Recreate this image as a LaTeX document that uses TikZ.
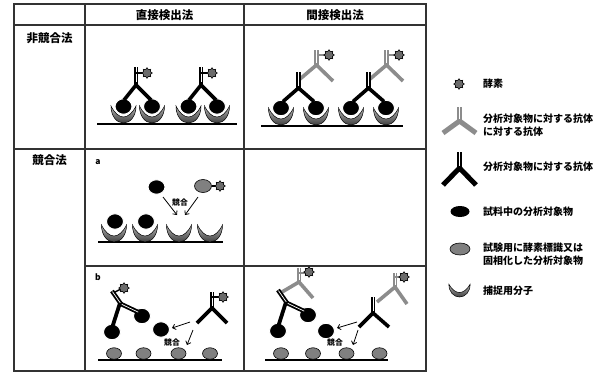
\documentclass[tikz,border=0pt]{standalone}
\usepackage{fontspec}
\newfontfamily\jp{Noto Sans CJK JP}
\usetikzlibrary{calc,shapes.geometric,arrows.meta}

\colorlet{abgray}{black!45}

% Y-shaped antibody: #1 arm width, #2 colour, #3 stem top, #4 stem foot, #5 left tip, #6 right tip
\newcommand\abody[6][3.6]{%
  \draw[draw=#2, line width=#1pt, line join=round] (#5) -- (#4) -- (#6);
  \draw[draw=#2, line width={#1pt+0.6pt}] (#3) -- (#4);
  \draw[white, line width={0.16*#1pt}] (#3) -- ($(#3)!0.85!(#4)$);
}
% double-chain bar (stem drawn as two strands)
\newcommand\dbar[3]{%
  \draw[draw=#1, line width=4.4pt] (#2) -- (#3);
  \draw[white, line width=0.7pt, shorten <=0.8pt, shorten >=0.8pt] (#2) -- (#3);
}

\tikzset{
  grid/.style={draw=black!80, line width=1.1pt},
  base/.style={line width=2.2pt, line cap=butt},
  head/.style={font=\jp\bfseries\fontsize{11.5}{13}\selectfont, inner sep=0pt},
  legtext/.style={font=\jp\bfseries\fontsize{10}{12.5}\selectfont, anchor=west, align=left, inner sep=0pt},
  sublabel/.style={font=\jp\bfseries\fontsize{8.5}{10}\selectfont, inner sep=0pt},
  small/.style={font=\jp\bfseries\fontsize{7.8}{9}\selectfont, inner sep=0pt},
  ball/.style={ellipse, fill=black, draw=white, line width=1pt, minimum width=17pt, minimum height=15.5pt, inner sep=0pt},
  gball/.style={ellipse, fill=black!50, draw=black, line width=0.6pt, minimum width=15pt, minimum height=11.5pt, inner sep=0pt},
  enz/.style={star, star points=8, star point ratio=1.45, fill=black!58, draw=black, line width=0.6pt, minimum size=10.5pt, inner sep=0pt},
  link/.style={line width=1.4pt},
  arr/.style={line width=0.8pt, -{Straight Barb[length=3pt,width=5.5pt]}},
  capture/.pic={
    \shadedraw[top color=black!30, bottom color=black!75, draw=black, line width=0.5pt]
      (-12.5,-1) .. controls (-12.5,9) and (-7,16) .. (0,16)
      .. controls (7,16) and (12.5,9) .. (12.5,-1)
      .. controls (9,6) and (4.5,10) .. (0,10)
      .. controls (-4.5,10) and (-9,6) .. (-12.5,-1) -- cycle;
  }
}

\begin{document}
\begin{tikzpicture}[x=1pt,y=-1pt]
\useasboundingbox (0,0) rectangle (612,373);

% ---- table ----
\draw[grid] (14,4) rectangle (426,371);
\draw[grid] (85,4) -- (85,371);
\draw[grid] (244,4) -- (244,371);
\draw[grid] (14,25) -- (426,25);
\draw[grid] (14,149) -- (426,149);
\draw[grid] (85,266) -- (426,266);

\node[head] (h1) at (164.5,15.5) {直接検出法};
\node[head] (h2) at (335,15.5) {間接検出法};
\node[head] (r1) at (49.5,38) {非競合法};
\node[head] (r2) at (49.5,160) {競合法};
\node[sublabel] (la) at (98,162) {a};
\node[sublabel] (lb) at (98,277) {b};

% ---- non-competitive, direct ----
\draw[base] (97,124) -- (237,124);
\foreach \dx/\n in {0/p,65/q}{
  \begin{scope}[xshift=\dx pt]
    \pic at (123.5,107) {capture};
    \pic at (152,107) {capture};
    \node[ball] (\n1) at (123.5,106.5) {};
    \node[ball] (\n2) at (152,106.5) {};
    \abody{black}{136,67}{136,85}{124,100}{151,100}
    \draw[link] (136,73) -- (143,73);
    \node[enz] (\n e) at (147,73) {};
  \end{scope}
}

% ---- non-competitive, indirect ----
\draw[base] (261,126) -- (403,126);
\foreach \dx/\n in {0/r,70/s}{
  \begin{scope}[xshift=\dx pt]
    \pic at (281,109) {capture};
    \pic at (316,109) {capture};
    \node[ball] (\n1) at (281,108) {};
    \node[ball] (\n2) at (316,108) {};
    \abody{abgray}{316.5,50}{316.5,65}{300,79}{333,81}
    \draw[link, abgray] (316.5,55) -- (325,55);
    \node[enz] (\n e) at (329,55) {};
    \abody{black}{298.5,72}{298.5,88}{283,101.5}{314,101.5}
  \end{scope}
}

% ---- competitive a ----
\draw[base] (98,242) -- (223,242);
\foreach \x in {114,145,179,210} \pic at (\x,226) {capture};
\node[ball] (a1) at (115,221.5) {};
\node[ball] (a2) at (146,221.5) {};
\node[ball, minimum height=14.5pt] (af) at (156.5,187) {};
\node[gball, minimum width=17pt, minimum height=13pt] (ag) at (203,186) {};
\draw[link] (ag.east) -- (216,186);
\node[enz] (ae) at (220,186) {};
\coordinate (a1s) at (163,197);
\coordinate (a1t) at (177,215);
\coordinate (a2s) at (198,197);
\coordinate (a2t) at (185,215);
\draw[arr] (a1s) -- (a1t);
\draw[arr] (a2s) -- (a2t);
\node[small] (ak) at (180,203) {競合};

% ---- competitive b, direct ----
\draw[base] (98,360) -- (222,360);
\foreach \x/\n in {114/1,143.5/2,178.5/3,210/4} \node[gball] (bg\n) at (\x,353.5) {};
\node[ball] (bf) at (161,329.5) {};
% antibody holding two analyte molecules
\node[ball] (bc1) at (112,332) {};
\node[ball] (bc2) at (142,316) {};
\dbar{black}{112,291}{121,304}
\draw[line width=3.8pt] (120,303) -- (112,328);
\dbar{black}{121,304}{139,312.5}
\draw[link] (115,292) -- (120,289.5);
\node[enz] (bce) at (124,288) {};
% free labelled antibody
\abody{black}{212,292}{212,308}{197,323}{227,323}
\draw[link] (212,297) -- (219,297);
\node[enz] (bre) at (223,297) {};
\coordinate (b1s) at (190,322);
\coordinate (b1t) at (172,328);
\coordinate (b2s) at (193,330);
\coordinate (b2t) at (187,345);
\draw[arr] (b1s) -- (b1t);
\draw[arr] (b2s) -- (b2t);
\node[small] (bk) at (172,342.5) {競合};

% ---- competitive b, indirect ----
\draw[base] (265,360) -- (388,360);
\foreach \x/\n in {281/1,313/2,346.5/3,379.5/4} \node[gball] (cg\n) at (\x,353.5) {};
\node[ball] (cf) at (326,331) {};
\node[ball] (cc1) at (278,331) {};
\node[ball] (cc2) at (308,315) {};
\abody{abgray}{299,268}{299,282}{282,292}{313,298}
\draw[link, abgray] (299,273) -- (305,273);
\node[enz] (cce) at (309,272) {};
\dbar{black}{278,290}{287,303}
\draw[line width=3.8pt] (286,302) -- (278,327);
\dbar{black}{287,303}{305,311.5}
% free antibody pair on the right
\abody{abgray}{395,273}{395,287}{377,302}{407,304}
\draw[link, abgray] (395,277) -- (400,277);
\node[enz] (cre) at (404,277) {};
\abody{black}{373,297}{373,313}{359,327}{389,327}
\coordinate (c1s) at (357,322);
\coordinate (c1t) at (337,328);
\coordinate (c2s) at (358,330);
\coordinate (c2t) at (353,345);
\draw[arr] (c1s) -- (c1t);
\draw[arr] (c2s) -- (c2t);
\node[small] (ck) at (335,342.5) {競合};

% ---- legend ----
\node[enz] (le) at (459,84) {};
\node[legtext] (lt1) at (483,84) {酵素};
\abody[5]{abgray}{459.5,107}{459.5,121}{443,133}{476,133}
\node[legtext] (lt2) at (483,125) {分析対象物に対する抗体\\に対する抗体};
\abody[5]{black}{459.5,152}{459.5,168}{443,185}{476,185}
\node[legtext] (lt3) at (483,167) {分析対象物に対する抗体};
\node[ellipse, fill=black, minimum width=19pt, minimum height=11pt, inner sep=0pt] (lb1) at (460,211.5) {};
\node[legtext] (lt4) at (483,212) {試料中の分析対象物};
\node[gball, minimum width=20pt, minimum height=12pt] (lb2) at (460,249) {};
\node[legtext] (lt5) at (483,254) {試験用に酵素標識又は\\固相化した分析対象物};
\pic[xscale=0.85, yscale=0.75] at (459.5,285) {capture};
\node[legtext] (lt6) at (483,291) {捕捉用分子};
\end{tikzpicture}
\end{document}
